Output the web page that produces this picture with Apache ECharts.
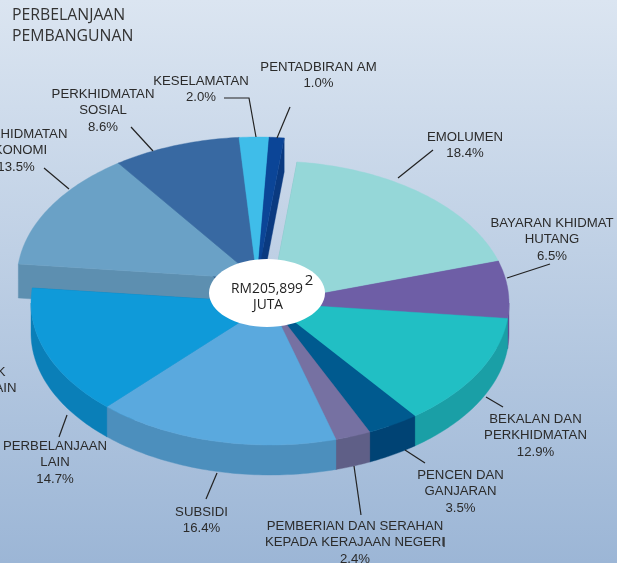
<!DOCTYPE html>
<html>
<head>
<meta charset="utf-8">
<style>html,body{margin:0;padding:0;overflow:hidden}#c{width:617px;height:563px}</style>
<script src="https://cdn.jsdelivr.net/npm/echarts@6/dist/echarts.min.js"></script>
</head>
<body>
<div id="c"></div>
<script>
// ---- data ----
var categories = ['EMOLUMEN','BAYARAN KHIDMAT HUTANG','BEKALAN DAN PERKHIDMATAN','PENCEN DAN GANJARAN','PEMBERIAN DAN SERAHAN KEPADA KERAJAAN NEGERI','SUBSIDI','PERBELANJAAN LAIN','PERKHIDMATAN EKONOMI','PERKHIDMATAN SOSIAL','KESELAMATAN','PENTADBIRAN AM'];
var values = [18.4,6.5,12.9,3.5,2.4,16.4,14.7,13.5,8.6,2.0,1.0];
var titleLines = ['PERBELANJAAN','PEMBANGUNAN'];
var centerLines = ['RM205,899','JUTA'];
var clippedLabelLines = ['K','AIN'];
var labelLines = [
  ['EMOLUMEN'],['BAYARAN KHIDMAT','HUTANG'],['BEKALAN DAN','PERKHIDMATAN'],['PENCEN DAN','GANJARAN'],
  ['PEMBERIAN DAN SERAHAN','KEPADA KERAJAAN NEGERI'],['SUBSIDI'],['PERBELANJAAN','LAIN'],
  ['PERKHIDMATAN','EKONOMI'],['PERKHIDMATAN','SOSIAL'],['KESELAMATAN'],['PENTADBIRAN AM']
];

// ---- styles and layout ----
var topColors  = ['#95d7d8','#6e5ea6','#21bfc4','#005a8f','#7671a2','#5aa9de','#0f9ad9','#6aa1c6','#3869a2','#3fbde9','#0b4597'];
var wallColors = ['#7fbcbd','#5f4f95','#1a9fa6','#004374','#5f5f87','#4c8fbd','#0a7fb8','#5d8fb0','#2c5585','#2f9cc4','#0a3a80'];
var sliceGroup = [0,0,0,0,0,0,0,1,1,1,1];
var groups = [
  {cx:270, cy:303, rx:239, ry:142, depth:30, z:4},
  {cx:257, cy:279, rx:240, ry:142, depth:34, z:1}
];
var startAngle = 6.5;
var labelAnchor = [[465,137],[552,223],[535.5,419],[460.5,475],[355,526],[201.5,512],[55,446],[16,134],[103,94],[201,81],[318.5,67]];
var leaderLines = [
  [[433,150],[398,178]],[[550,264],[507,278]],[[503,407],[486,397]],[[425,463],[405,450]],
  [[361,515],[354,466]],[[206,499],[217,473]],[[59,437],[67,415]],[[44,168],[69,189]],
  [[131,127],[153,151]],[[224,98],[249,98],[256,137]],[[290,107],[277,138]]
];
var textColor = '#2b2b2b', labelFont = 'Liberation Sans', brandFont = 'Open Sans';

var total = values.reduce(function(a,b){return a+b;},0);
var cum = [0];
values.forEach(function(v,i){cum.push(cum[i]+v);});

function pt(g,deg,dy){
  var a = deg*Math.PI/180;
  return [g.cx+g.rx*Math.sin(a), g.cy-g.ry*Math.cos(a)+(dy||0)];
}
function arc(g,a0,a1,dy){
  var out=[], n=Math.max(2,Math.ceil(Math.abs(a1-a0)));
  for(var k=0;k<=n;k++) out.push(pt(g,a0+(a1-a0)*k/n,dy));
  return out;
}
function renderSlice(params, api){
  var i = params.dataIndex, g = groups[sliceGroup[i]];
  var a0 = startAngle+cum[i]/total*360, a1 = a0+api.value(0)/total*360;
  var apex=[g.cx,g.cy], apexLow=[g.cx,g.cy+g.depth];
  var kids=[];
  function poly(points,fill,z2){
    kids.push({type:'polygon',shape:{points:points},z2:z2,
      style:{fill:fill,stroke:fill,lineWidth:0.4}});
  }
  // cut faces sit behind the rim of the neighbouring slices
  [a0,a1].forEach(function(a){
    var p=pt(g,a), q=pt(g,a,g.depth);
    poly([apex,p,q,apexLow],wallColors[i],g.z);
  });
  // outer rim, visible on the near half only
  var r0=Math.max(a0,90), r1=Math.min(a1,270);
  if(r1>r0){
    poly(arc(g,r0,r1,0).concat(arc(g,r1,r0,g.depth)),wallColors[i],g.z+1);
  }
  // top face
  poly([apex].concat(arc(g,a0,a1,0)),topColors[i],g.z+2);
  return {type:'group',children:kids};
}

var graphics = [];
function text(x,y,str,align,font,size,color){
  graphics.push({type:'text',x:x,y:y,silent:true,z:20,
    style:{text:str,textAlign:align,textVerticalAlign:'middle',fontFamily:font,fontSize:size,fill:color||textColor}});
}
titleLines.forEach(function(s,k){ text(12,15+21*k,s,'left',brandFont,15.8,'#333333'); });
labelLines.forEach(function(lines,i){
  var a=labelAnchor[i];
  lines.concat([values[i].toFixed(1)+'%']).forEach(function(s,k){
    text(a[0],a[1]+0.6+16.2*k,s,'center',labelFont,13.2);
  });
});
text(5.5,372.6,clippedLabelLines[0],'right',labelFont,13.2);
text(16.5,388.6,clippedLabelLines[1],'right',labelFont,13.2);
leaderLines.forEach(function(p){
  graphics.push({type:'polyline',silent:true,z:19,shape:{points:p},style:{fill:null,stroke:'#222222',lineWidth:1.2}});
});
graphics.push({type:'line',silent:true,z:19,shape:{x1:444,y1:537,x2:444,y2:547},style:{stroke:'#222222',lineWidth:1.2}});
graphics.push({type:'ellipse',silent:true,z:15,shape:{cx:267,cy:293,rx:58,ry:34},style:{fill:'#ffffff'}});
text(267,289,centerLines[0],'center',brandFont,13.8,'#222222');
text(268,305.5,centerLines[1],'center',brandFont,13.8,'#222222');
text(309,281,'2','center',brandFont,15,'#222222');

var chart = echarts.init(document.getElementById('c'),null,{renderer:'canvas'});
chart.setOption({
  animation:false,
  backgroundColor:new echarts.graphic.LinearGradient(0,0,0,1,[{offset:0,color:'#dbe5f1'},{offset:1,color:'#9cb6d6'}]),
  series:[{
    type:'custom',
    coordinateSystem:'none',
    renderItem:renderSlice,
    silent:true,
    data:values.map(function(v,i){return {name:categories[i],value:[v]};})
  }],
  graphic:{elements:graphics}
});
</script>
</body>
</html>
